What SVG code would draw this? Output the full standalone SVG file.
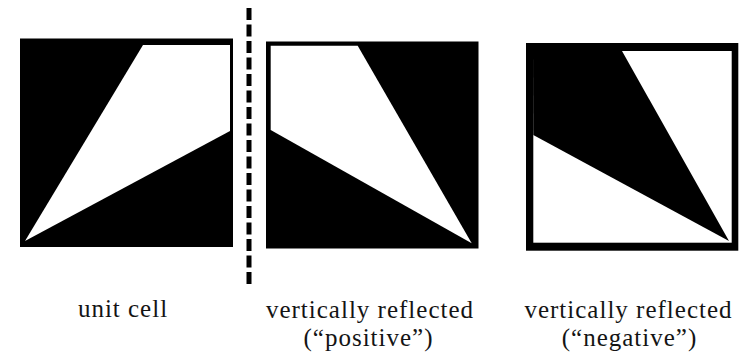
<svg xmlns="http://www.w3.org/2000/svg" width="742" height="358" viewBox="0 0 742 358">
  <style>
    .blk { fill: #000; }
    .wht { fill: #fff; }
    .lbl { font-family: "Liberation Serif", "Times New Roman", serif; font-size: 25px; letter-spacing: 1px; fill: #141414; text-anchor: middle; }
    .divider { stroke: #000; stroke-width: 5; stroke-dasharray: 12 4.5; fill: none; }
  </style>
  <rect width="742" height="358" fill="#fff"/>

  <g id="unit-cell">
    <rect class="blk" x="20" y="38.5" width="213" height="208.5"/>
    <polygon class="wht" points="25,241 143,45 230,45 230,131"/>
    <text class="lbl" x="123" y="317">unit cell</text>
  </g>

  <g id="connectors">
    <line class="divider" x1="249" y1="8" x2="249" y2="287"/>
  </g>

  <g id="positive">
    <rect class="blk" x="266" y="41.5" width="212.5" height="207"/>
    <polygon class="wht" points="270.7,45.7 357.7,45.7 471.7,243.3 270.7,130"/>
    <text class="lbl" x="370" y="318">vertically reflected</text>
    <text class="lbl" x="368.5" y="346">(“positive”)</text>
  </g>

  <g id="negative">
    <rect class="blk" x="526" y="43" width="212.3" height="207.7"/>
    <rect class="wht" x="533.3" y="51" width="198.4" height="191.7"/>
    <polygon class="blk" points="533,51 622,51 729,241 533.3,135"/>
    <text class="lbl" x="628.5" y="318">vertically reflected</text>
    <text class="lbl" x="629.5" y="346">(“negative”)</text>
  </g>
</svg>
